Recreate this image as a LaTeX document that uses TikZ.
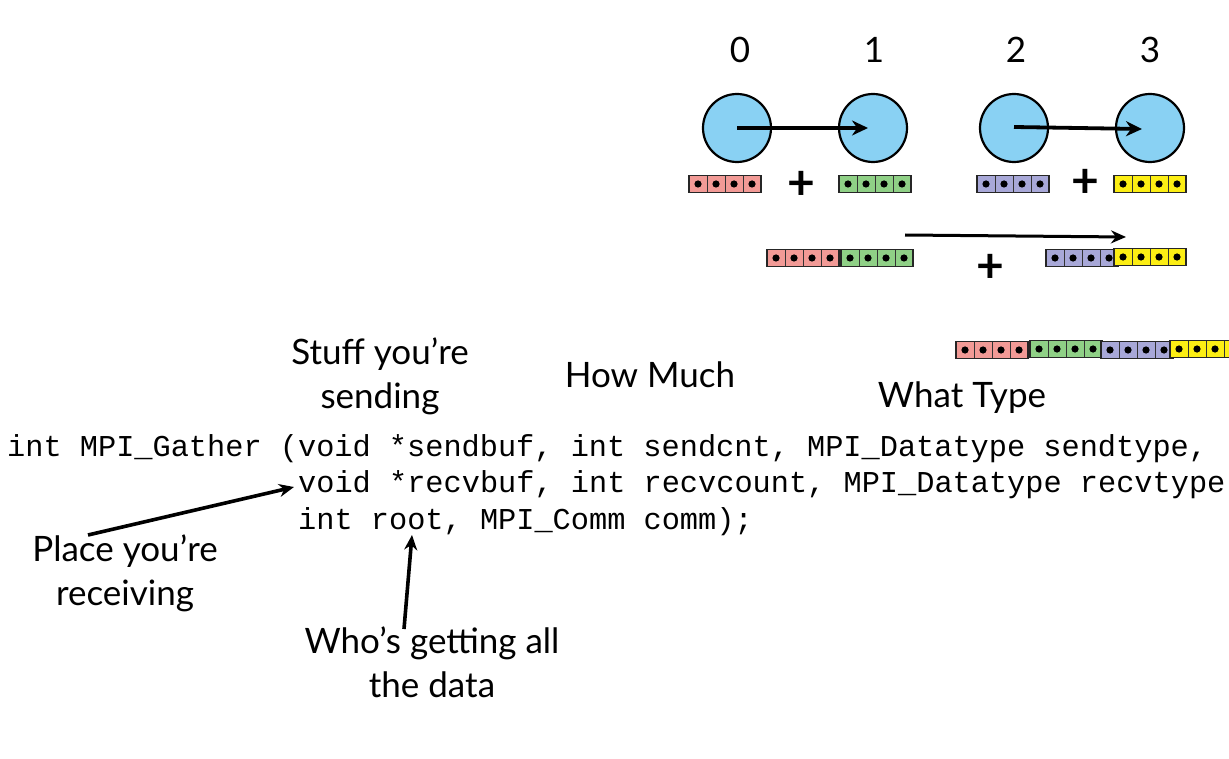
\documentclass[tikz,border=0pt]{standalone}
\usepackage{fontspec}
\setmainfont{Lato}
\newfontfamily\codefont{Liberation Mono}
\usetikzlibrary{calc,arrows.meta}

\definecolor{procblue}{RGB}{137,209,243}
\definecolor{cellpink}{RGB}{242,154,150}
\definecolor{cellgreen}{RGB}{143,208,134}
\definecolor{cellpurple}{RGB}{168,168,216}
\definecolor{cellyellow}{RGB}{252,238,20}

\tikzset{
  proc/.style={circle, draw=black, line width=2.2pt, fill=procblue,
    minimum size=68pt, inner sep=0pt},
  rank/.style={font=\fontsize{35}{40}\selectfont},
  label/.style={font=\fontsize{35}{44}\selectfont, align=center, inner sep=0pt},
  code/.style={font=\codefont\fontsize{30.3}{36}\selectfont, inner sep=0pt, anchor=base west},
  plus/.style={font=\bfseries\fontsize{48}{48}\selectfont, inner sep=0pt},
  arr/.style={draw=black!85, line width=1.2pt, fill=#1,
    minimum width=72pt, minimum height=17pt, inner sep=0pt, outer sep=0pt,
    path picture={
      \foreach \i in {1,2,3}
        \draw[line width=1pt, black!80]
          ($(path picture bounding box.south west)!\i/4!(path picture bounding box.south east)$)
          -- ++(0,17pt);
      \foreach \i in {1,3,5,7}
        \fill[black] ($(path picture bounding box.west)!\i/8!(path picture bounding box.east)$) circle (3.6pt);
    }},
  send/.style={line width=3.8pt, -{Stealth[length=16pt,width=15pt]}},
  merge/.style={line width=3pt, -{Stealth[length=15pt,width=13pt]}},
  point/.style={line width=3.6pt, -{Stealth[length=15pt,width=13pt]}},
}

\begin{document}
\begin{tikzpicture}[x=1pt,y=-1pt]
  \useasboundingbox (0,0) rectangle (1229,759);

  % process ranks
  \node[rank] (r0) at (740,50) {0};
  \node[rank] (r1) at (874,50) {1};
  \node[rank] (r2) at (1016,50) {2};
  \node[rank] (r3) at (1150,50) {3};

  \node[proc] (p0) at (737,128) {};
  \node[proc] (p1) at (873,128) {};
  \node[proc] (p2) at (1014,128) {};
  \node[proc] (p3) at (1150,128) {};

  \draw[send] (p0.center) -- ([xshift=-5pt]p1.center);
  \draw[send] ([yshift=1pt]p2.center) -- ([xshift=-8pt,yshift=-1pt]p3.center);

  % local buffers
  \node[arr=cellpink]   (a0) at (725,184) {};
  \node[arr=cellgreen]  (a1) at (875,184) {};
  \node[arr=cellpurple] (a2) at (1013,184) {};
  \node[arr=cellyellow] (a3) at (1150,184) {};
  \node[plus] (s1) at (801,185) {+};
  \node[plus] (s2) at (1085,183) {+};

  % first merge step
  \node[arr=cellpink]   (b0) at (803,258) {};
  \node[arr=cellgreen]  (b1) at (877,258) {};
  \node[arr=cellpurple] (b2) at (1082,258) {};
  \node[arr=cellyellow] (b3) at (1150,257) {};
  \node[plus] (s3) at (990,268) {+};
  \coordinate (m0) at (905,235);
  \coordinate (m1) at (1126,237);
  \draw[merge] (m0) -- (m1);

  % gathered result
  \node[arr=cellpink]   (c0) at (992,350) {};
  \node[arr=cellgreen]  (c1) at (1066,349) {};
  \node[arr=cellpurple] (c2) at (1137,350) {};
  \node[arr=cellyellow] (c3) at (1206,349) {};

  % argument annotations
  \node[label] (stuff) at (380,376) {Stuff you’re\\sending};
  \node[label] (howmuch) at (650,375) {How Much};
  \node[label] (whattype) at (962,398) {What Type};

  % the call
  \node[code] (l1) at (7,456) {int MPI\_Gather (void *sendbuf, int sendcnt, MPI\_Datatype sendtype,};
  \node[code] (l2) at (298,492) {void *recvbuf, int recvcount, MPI\_Datatype recvtype};
  \node[code] (l3) at (298,529) {int root, MPI\_Comm comm);};

  \node[label] (place) at (125,573) {Place you’re\\receiving};
  \node[label] (who) at (432,662) {Who’s getting all\\the data};

  \coordinate (placetip) at (88,535);
  \coordinate (recvbuf) at (294,487);
  \coordinate (whotip) at (404,629);
  \coordinate (root) at (412,535);
  \draw[point] (placetip) -- (recvbuf);
  \draw[point] (whotip) -- (root);
\end{tikzpicture}
\end{document}
